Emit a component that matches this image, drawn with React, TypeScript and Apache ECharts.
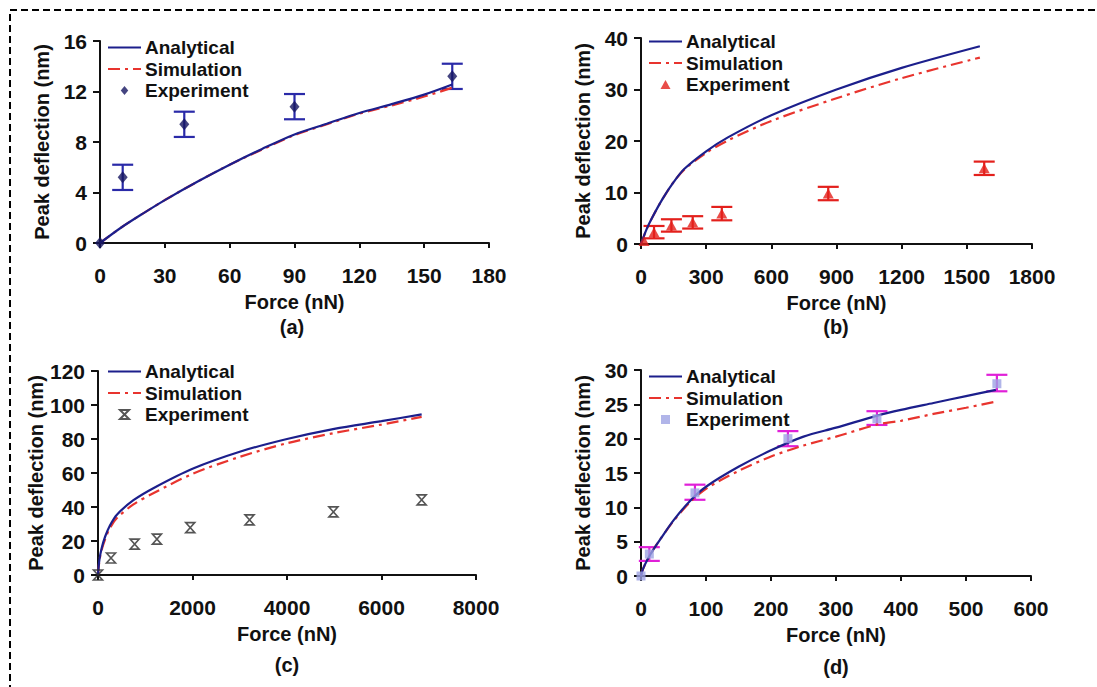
import React, { useEffect, useRef } from "react";
import * as echarts from "echarts";

// ---------- Panel (a) ----------
const aForce = [0, 10, 20, 30, 45, 60, 75, 90, 105, 120, 135, 150, 163];
const aAnalytical = [0, 1.25, 2.35, 3.4, 4.85, 6.2, 7.45, 8.6, 9.45, 10.3, 11.0, 11.75, 12.55];
const aSimulation = [0, 1.25, 2.35, 3.4, 4.85, 6.2, 7.4, 8.55, 9.4, 10.25, 10.9, 11.6, 12.3];
const aExpForce = [0, 10.5, 39, 90, 163];
const aExpDefl = [0, 5.2, 9.4, 10.8, 13.2];
const aErrLow = [null, 4.2, 8.4, 9.8, 12.2];
const aErrHigh = [null, 6.2, 10.4, 11.8, 14.2];

// ---------- Panel (b) ----------
const bForce = [0, 25, 50, 100, 150, 200, 300, 400, 600, 900, 1200, 1560];
const bAnalytical = [0, 2.8, 5.0, 8.8, 12.0, 14.6, 18.0, 20.7, 25.0, 30.0, 34.2, 38.4];
const bSimulation = [0, 2.8, 5.0, 8.8, 12.0, 14.5, 17.7, 20.1, 23.9, 28.3, 32.2, 36.2];
const bExpForce = [14, 60, 140, 238, 372, 862, 1580];
const bExpDefl = [0.6, 2.3, 3.6, 4.2, 5.9, 9.8, 14.7];
const bErrLow = [null, 1.1, 2.4, 3.0, 4.6, 8.5, 13.4];
const bErrHigh = [null, 3.5, 4.8, 5.4, 7.2, 11.1, 16.0];

// ---------- Panel (c) ----------
const cForce = [0, 30, 80, 150, 250, 400, 750, 1200, 2000, 3000, 4000, 5000, 6000, 6850];
const cAnalytical = [0, 9, 16, 22.5, 29, 35.5, 44, 51.5, 62.5, 72.5, 80, 86, 90.5, 94.5];
const cSimulation = [0, 8.5, 15, 21, 27.5, 33.5, 41.5, 48.5, 59.5, 69.5, 77.5, 83.5, 88.5, 93];
const cExpForce = [0, 275, 775, 1247, 1952, 3207, 4982, 6850];
const cExpDefl = [0, 10, 18.2, 21.1, 27.9, 32.4, 37.1, 44.2];

// ---------- Panel (d) ----------
const dForce = [0, 3, 10, 20, 30, 50, 75, 100, 150, 200, 250, 300, 365, 400, 450, 500, 546];
const dAnalytical = [0, 1.0, 2.4, 4.0, 5.4, 8.1, 10.9, 13.0, 15.9, 18.3, 20.3, 21.6, 23.4, 24.2, 25.2, 26.2, 27.1];
const dSimulation = [0, 1.0, 2.4, 4.0, 5.4, 8.0, 10.7, 12.7, 15.3, 17.4, 19.0, 20.3, 22.1, 22.6, 23.6, 24.5, 25.4];
const dExpForce = [0, 12.8, 83, 226, 363, 547.5];
const dExpDefl = [0, 3.2, 12.1, 20, 22.9, 28];
const dErrLow = [null, 2.2, 11.1, 18.9, 22, 26.9];
const dErrHigh = [null, 4.2, 13.3, 21.1, 24, 29.3];

// axis ranges
const xMax = [180, 1800, 8000, 600];
const xStep = [30, 300, 2000, 100];
const yMax = [16, 40, 120, 30];
const yStep = [4, 10, 20, 5];
const panelLabels = ["(a)", "(b)", "(c)", "(d)"];
const legendNames = ["Analytical", "Simulation", "Experiment"];

const FONT = "'Liberation Sans', Arial, sans-serif";
const INK = "#111111";
const BLUE_LINE = "#1c1f8c";
const RED_LINE = "#e8342e";

const zip = (xs: number[], ys: (number | null)[]) => xs.map((x, i) => [x, ys[i]]);
const errRows = (xs: number[], lo: (number | null)[], hi: (number | null)[]) =>
  xs.map((x, i) => [x, lo[i], hi[i]]).filter((r) => r[1] !== null);

const diamondPath = "path://M5,0L10,6L5,12L0,6Z";
const trianglePath = "path://M5,0L10,9L0,9Z";
const hourglassPath = "path://M0,0L10,0L0,10L10,10Z";
const squarePath = "path://M0,0L10,0L10,10L0,10Z";

export default function App() {
  const ref = useRef<HTMLDivElement>(null);

  useEffect(() => {
    if (!ref.current) return;
    const chart = echarts.init(ref.current, undefined, { renderer: "svg" });

    const grids = [
      { left: 100, top: 41, width: 389, height: 202 },
      { left: 641, top: 38, width: 391, height: 206 },
      { left: 98, top: 371, width: 378, height: 204 },
      { left: 641, top: 370, width: 390, height: 206 },
    ];

    const axisText = { fontSize: 21, fontWeight: "bold", color: INK, fontFamily: FONT };

    const xAxes = grids.map((_, i) => ({
      type: "value",
      gridIndex: i,
      min: 0,
      max: xMax[i],
      interval: xStep[i],
      name: "Force (nN)",
      nameLocation: "middle",
      nameGap: 49,
      nameTextStyle: { ...axisText, fontSize: 20 },
      axisLine: { onZero: false, lineStyle: { color: INK, width: 2 } },
      axisTick: { length: 5, lineStyle: { color: INK, width: 2 } },
      splitLine: { show: false },
      axisLabel: { ...axisText, margin: 22, formatter: (v: number) => String(v) },
    }));

    const yAxes = grids.map((_, i) => ({
      type: "value",
      gridIndex: i,
      min: 0,
      max: yMax[i],
      interval: yStep[i],
      name: "Peak deflection (nm)",
      nameLocation: "middle",
      nameGap: 48,
      nameTextStyle: { ...axisText, fontSize: 20 },
      axisLine: { onZero: false, lineStyle: { color: INK, width: 2 } },
      axisTick: { length: 7, lineStyle: { color: INK, width: 2 } },
      splitLine: { show: false },
      axisLabel: { ...axisText, margin: 13, formatter: (v: number) => String(v) },
    }));

    const tags = ["a", "b", "c", "d"];
    const lines = [
      [aForce, aAnalytical, aSimulation],
      [bForce, bAnalytical, bSimulation],
      [cForce, cAnalytical, cSimulation],
      [dForce, dAnalytical, dSimulation],
    ] as const;
    const exps = [
      [aExpForce, aExpDefl],
      [bExpForce, bExpDefl],
      [cExpForce, cExpDefl],
      [dExpForce, dExpDefl],
    ] as const;
    const expStyle = [
      { symbol: diamondPath, symbolSize: [10, 12], itemStyle: { color: "#151560" } },
      { symbol: trianglePath, symbolSize: [11, 10], itemStyle: { color: "#e3201c" } },
      {
        symbol: hourglassPath,
        symbolSize: [9, 10],
        itemStyle: { color: "rgba(0,0,0,0)", borderColor: "#2a2a2a", borderWidth: 1.6 },
      },
      { symbol: squarePath, symbolSize: [9, 9], itemStyle: { color: "#9ea2e4" } },
    ];
    const errs = [
      { rows: errRows(aExpForce, aErrLow, aErrHigh), color: "#2a2aa8", half: 10.5 },
      { rows: errRows(bExpForce, bErrLow, bErrHigh), color: "#e3201c", half: 10.5 },
      null,
      { rows: errRows(dExpForce, dErrLow, dErrHigh), color: "#e020d8", half: 10.5 },
    ];

    const series: any[] = [];
    tags.forEach((t, i) => {
      const [fx, an, sim] = lines[i];
      const err = errs[i];
      if (err) {
        series.push({
          type: "custom",
          name: t + ":err",
          xAxisIndex: i,
          yAxisIndex: i,
          data: err.rows,
          encode: { x: 0, y: [1, 2] },
          z: 2,
          renderItem: (params: any, api: any) => {
            const x = api.value(0);
            const lo = api.coord([x, api.value(1)]);
            const hi = api.coord([x, api.value(2)]);
            const st = { stroke: err.color, lineWidth: 2.2 };
            const h = err.half;
            return {
              type: "group",
              children: [
                { type: "line", shape: { x1: lo[0], y1: lo[1], x2: hi[0], y2: hi[1] }, style: st },
                { type: "line", shape: { x1: lo[0] - h, y1: lo[1], x2: lo[0] + h, y2: lo[1] }, style: st },
                { type: "line", shape: { x1: hi[0] - h, y1: hi[1], x2: hi[0] + h, y2: hi[1] }, style: st },
              ],
            };
          },
        });
      }
      series.push({
        type: "line",
        name: t + ":Simulation",
        xAxisIndex: i,
        yAxisIndex: i,
        data: zip(fx as number[], sim as number[]),
        smooth: 0.3,
        symbol: "none",
        z: 3,
        lineStyle: { color: RED_LINE, width: 2.2, type: [12, 5, 3, 5] },
        itemStyle: { color: RED_LINE },
      });
      series.push({
        type: "line",
        name: t + ":Analytical",
        xAxisIndex: i,
        yAxisIndex: i,
        data: zip(fx as number[], an as number[]),
        smooth: 0.3,
        symbol: "none",
        z: 4,
        lineStyle: { color: BLUE_LINE, width: 2.2 },
        itemStyle: { color: BLUE_LINE },
      });
      series.push({
        type: "scatter",
        name: t + ":Experiment",
        xAxisIndex: i,
        yAxisIndex: i,
        data: zip(exps[i][0] as number[], exps[i][1] as number[]),
        clip: false,
        z: 5,
        ...expStyle[i],
      });
    });

    const legendPos = [
      { left: 107, top: 38 },
      { left: 648, top: 32 },
      { left: 107, top: 362 },
      { left: 648, top: 367 },
    ];
    const legends = tags.map((t, i) => ({
      ...legendPos[i],
      orient: "vertical",
      padding: 0,
      itemGap: 2.5,
      itemWidth: 33,
      itemHeight: 9,
      symbolKeepAspect: true,
      selectedMode: false,
      data: legendNames.map((n) =>
        n === "Experiment"
          ? { name: t + ":" + n }
          : { name: t + ":" + n, itemStyle: { opacity: 0 } }
      ),
      formatter: (name: string) => name.split(":")[1],
      textStyle: {
        fontSize: 19,
        lineHeight: 19,
        fontWeight: "bold",
        color: INK,
        fontFamily: FONT,
        padding: [0, 0, 0, -1],
      },
    }));

    const labelPos = [
      [292, 327],
      [836, 327],
      [287, 665],
      [836, 667],
    ];

    const graphic: any[] = [
      {
        type: "rect",
        shape: { x: 10, y: 10, width: 1200, height: 1000 },
        style: { fill: "none", stroke: "#000", lineWidth: 2, lineDash: [7, 4] },
        silent: true,
      },
      ...panelLabels.map((txt, i) => ({
        type: "text",
        x: labelPos[i][0],
        y: labelPos[i][1],
        style: {
          text: txt,
          fontSize: 20,
          fontWeight: "bold",
          fontFamily: FONT,
          fill: INK,
          align: "center",
          verticalAlign: "middle",
        },
      })),
    ];

    chart.setOption({
      animation: false,
      backgroundColor: "#ffffff",
      grid: grids,
      xAxis: xAxes,
      yAxis: yAxes,
      legend: legends,
      series,
      graphic,
    });

    return () => chart.dispose();
  }, []);

  return (
    <div
      ref={ref}
      style={{ position: "absolute", left: 0, top: 0, width: 1097, height: 687 }}
    />
  );
}
